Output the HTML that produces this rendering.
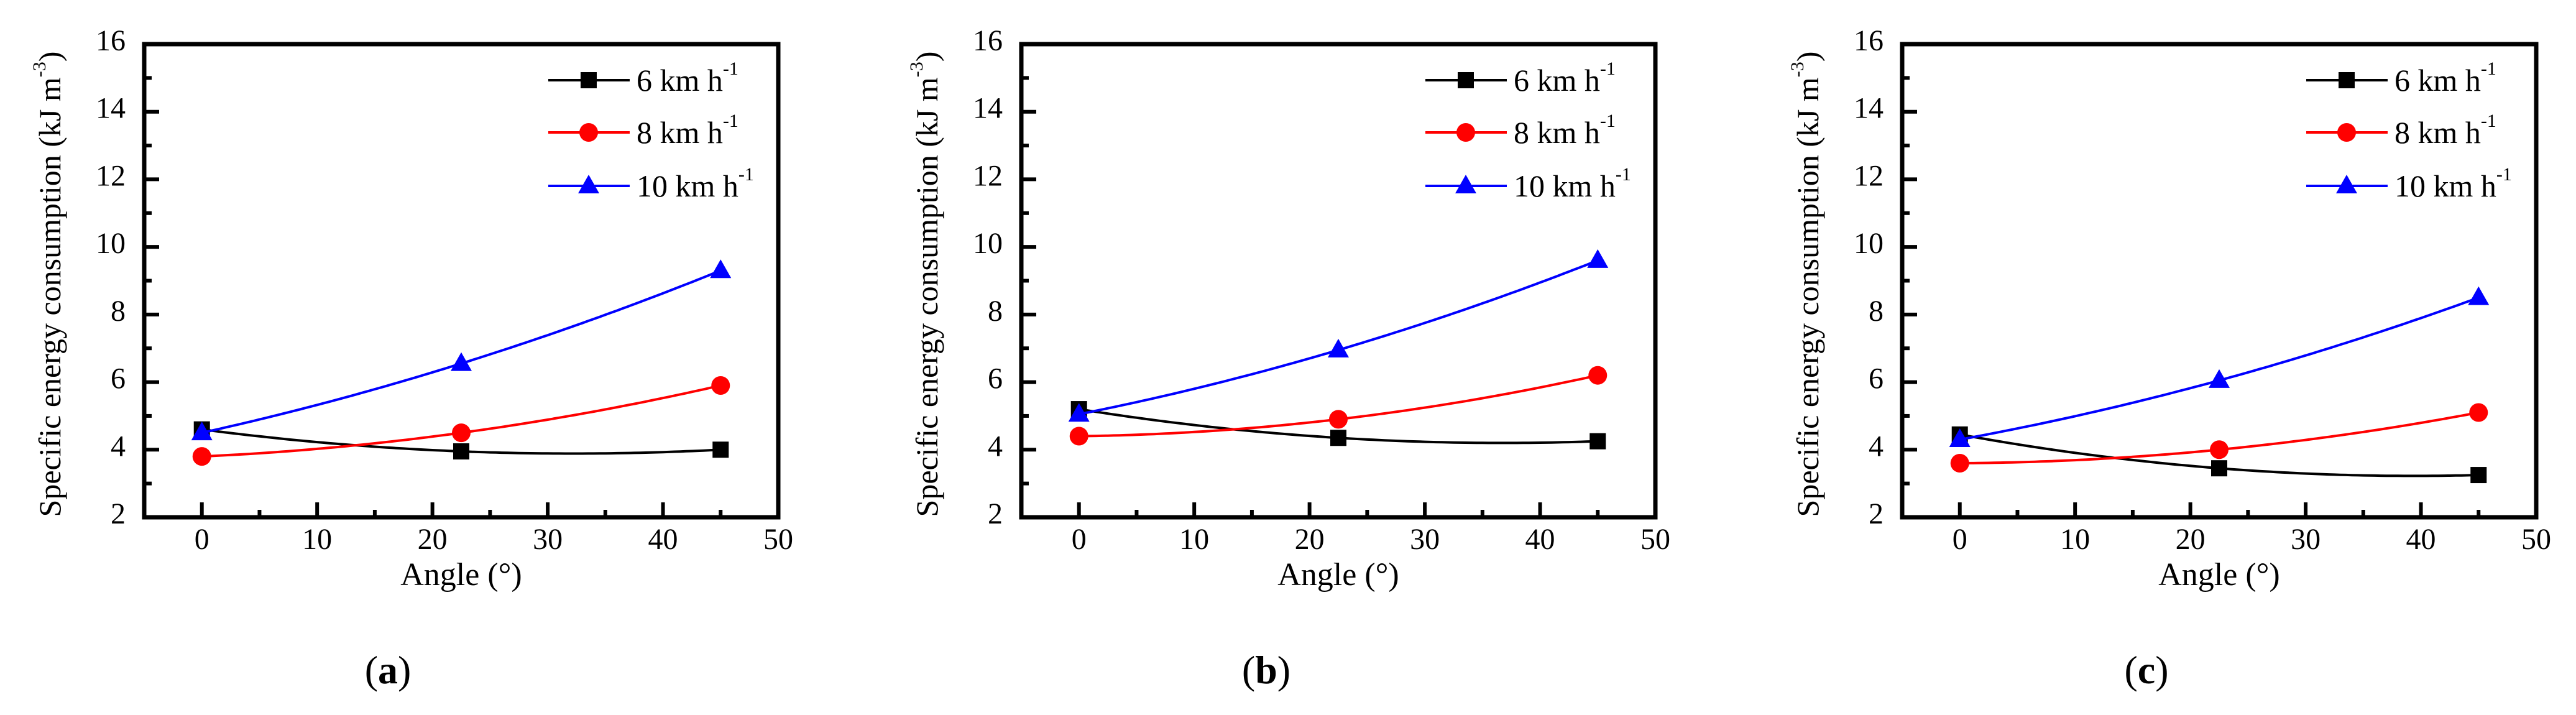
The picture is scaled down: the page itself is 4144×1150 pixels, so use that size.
<!DOCTYPE html>
<html><head><meta charset="utf-8">
<style>
html,body{margin:0;padding:0;background:#fff;}
svg{display:block;font-family:"Liberation Serif","DejaVu Serif",serif;}
svg text{font-family:"Liberation Serif","DejaVu Serif",serif;fill:#000;}
</style></head>
<body>
<svg id="fig" width="4144" height="1150" viewBox="0 0 4144 1150" font-family="Liberation Serif, serif" xmlns="http://www.w3.org/2000/svg"></svg>
<script>
const angles = [0, 22.5, 45];
const seriesLabels = ["6 km h", "8 km h", "10 km h"];
const xTicks = [0, 10, 20, 30, 40, 50];
const yTicks = [2, 4, 6, 8, 10, 12, 14, 16];
const panelLetters = ["a", "b", "c"];
const a6 = [4.6, 3.95, 4.0];
const a8 = [3.8, 4.5, 5.9];
const a10 = [4.5, 6.55, 9.3];
const b6 = [5.2, 4.35, 4.25];
const b8 = [4.4, 4.9, 6.2];
const b10 = [5.05, 6.95, 9.6];
const c6 = [4.45, 3.45, 3.25];
const c8 = [3.6, 4.0, 5.1];
const c10 = [4.3, 6.05, 8.5];
const panelData = [[a6, a8, a10], [b6, b8, b10], [c6, c8, c10]];

const NS = "http://www.w3.org/2000/svg";
const svg = document.getElementById("fig");
const colors = ["#000000", "#ff0000", "#0000ff"];
const lefts = [232, 1643, 3060];
const W = 1020, TOP = 71, BOT = 832;
const XMIN = -5, XMAX = 50, YMIN = 2, YMAX = 16;
const FF = "Liberation Serif, DejaVu Serif, serif";

function mk(tag, attrs, parent) {
  const e = document.createElementNS(NS, tag);
  for (const k in attrs) e.setAttribute(k, attrs[k]);
  if (tag === "text") e.setAttribute("font-family", FF);
  (parent || svg).appendChild(e);
  return e;
}
function marker(g, type, cx, cy, col) {
  let m;
  if (type === 0) m = mk("rect", {x: cx - 13, y: cy - 13, width: 26, height: 26, fill: col}, g);
  else if (type === 1) m = mk("circle", {cx: cx, cy: cy, r: 15, fill: col}, g);
  else m = mk("polygon", {points: `${cx},${cy - 18} ${cx + 17},${cy + 12} ${cx - 17},${cy + 12}`, fill: col}, g);
  return m;
}
function lagrange(xs, ys, x) {
  let s = 0;
  for (let i = 0; i < xs.length; i++) {
    let t = ys[i];
    for (let j = 0; j < xs.length; j++) if (j !== i) t *= (x - xs[j]) / (xs[i] - xs[j]);
    s += t;
  }
  return s;
}

panelData.forEach((series, p) => {
  const L = lefts[p], R = L + W;
  const sx = v => L + (v - XMIN) / (XMAX - XMIN) * W;
  const sy = v => BOT - (v - YMIN) / (YMAX - YMIN) * (BOT - TOP);
  const g = mk("g", {});
  
  

  for (let v = 0; v <= 45; v += 5) {
    const len = v % 10 === 0 ? 24 : 12;
    const t = mk("line", {x1: sx(v), x2: sx(v), y1: BOT, y2: BOT - len, stroke: "#000", "stroke-width": 6}, g);
    
    
  }
  for (let v = 3; v < 16; v += 1) {
    const len = v % 2 === 0 ? 24 : 12;
    const t = mk("line", {x1: L, x2: L + len, y1: sy(v), y2: sy(v), stroke: "#000", "stroke-width": 6}, g);
    
    
  }
  xTicks.forEach(v => {
    const t = mk("text", {x: sx(v), y: 883, "font-size": 48, "text-anchor": "middle"}, g);
    t.textContent = v;
    
    
  });
  yTicks.forEach(v => {
    const t = mk("text", {x: L - 30, y: sy(v) + 10, "font-size": 48, "text-anchor": "end"}, g);
    t.textContent = v;
    
    
  });

  series.forEach((vals, s) => {
    let d = "";
    for (let i = 0; i <= 90; i++) {
      const x = angles[0] + (angles[2] - angles[0]) * i / 90;
      d += (i ? "L" : "M") + sx(x).toFixed(1) + "," + sy(lagrange(angles, vals, x)).toFixed(1);
    }
    const path = mk("path", {d: d, fill: "none", stroke: colors[s], "stroke-width": 4}, g);
    
    
    vals.forEach((v, i) => {
      const m = marker(g, s, sx(angles[i]), sy(v), colors[s]);
      
      
    });
  });

  const fr = mk("rect", {x: L, y: TOP, width: W, height: BOT - TOP, fill: "none", stroke: "#000", "stroke-width": 7}, g);
  
  

  const ly = [129, 213, 299];
  seriesLabels.forEach((lab, s) => {
    const lg = mk("g", {}, g);
    
    
    mk("line", {x1: L + 650, x2: L + 781, y1: ly[s], y2: ly[s], stroke: colors[s], "stroke-width": 4}, lg);
    marker(lg, s, L + 715, ly[s], colors[s]);
    const t = mk("text", {x: L + 792, y: ly[s] + 17, "font-size": 50}, lg);
    t.textContent = lab;
    const sup = mk("tspan", {dy: -26, "font-size": 30}, t);
    sup.textContent = "-1";
  });

  const xt = mk("text", {x: L + W / 2, y: 941, "font-size": 52, "text-anchor": "middle"}, g);
  xt.textContent = "Angle (°)";
  
  
  const yx = L - 135, yy = 457;
  const yt = mk("text", {x: yx, y: yy, "font-size": 50, "text-anchor": "middle", transform: `rotate(-90 ${yx} ${yy})`}, g);
  yt.textContent = "Specific energy consumption (kJ m";
  const s3 = mk("tspan", {dy: -24, "font-size": 30}, yt);
  s3.textContent = "-3";
  const s4 = mk("tspan", {dy: 24}, yt);
  s4.textContent = ")";
  
  

  const pl = mk("text", {x: L + 392 + (p === 1 ? 2 : 0) + (p === 2 ? 1 : 0), y: 1099, "font-size": 64, "text-anchor": "middle"}, g);
  pl.textContent = "(";
  const bt = mk("tspan", {"font-weight": "bold"}, pl);
  bt.textContent = panelLetters[p];
  const cp = mk("tspan", {}, pl);
  cp.textContent = ")";
  
  
});
</script>
</body></html>
